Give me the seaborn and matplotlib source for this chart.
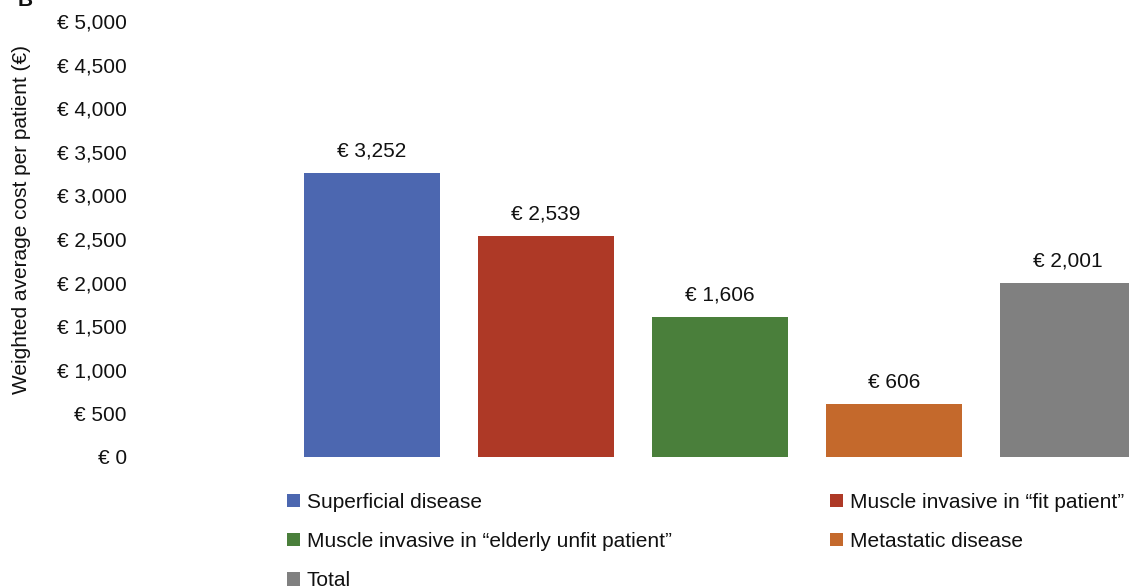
import matplotlib
matplotlib.use("Agg")
import matplotlib.pyplot as plt
import seaborn as sns
from matplotlib.patches import Patch
from matplotlib.ticker import FuncFormatter

categories = ["Superficial disease",
              "Muscle invasive in \u201cfit patient\u201d",
              "Muscle invasive in \u201celderly unfit patient\u201d",
              "Metastatic disease",
              "Total"]
values = [3252, 2539, 1606, 606, 2001]
colors = ["#4c67b0", "#ae3926", "#4a7f3b", "#c4692c", "#808080"]
yticks = [0, 500, 1000, 1500, 2000, 2500, 3000, 3500, 4000, 4500, 5000]

sns.set_style("white")
plt.rcParams["font.family"] = ["Liberation Sans", "DejaVu Sans"]

fig = plt.figure(figsize=(11.29, 5.86), dpi=100)
ax = fig.add_axes([135 / 1129, 1 - 457 / 586, 1 - 135 / 1129, (457 - 21) / 586])

sns.barplot(x=categories, y=values, hue=categories, palette=colors,
            dodge=False, legend=False, width=0.78, ax=ax, saturation=1,
            linewidth=0)

ax.set_ylim(0, 5000)
ax.set_xlim(-1.36, 4.35)
ax.set_yticks(yticks)
ax.yaxis.set_major_formatter(FuncFormatter(lambda v, p: f"\u20ac {int(v):,}"))
ax.tick_params(axis="y", labelsize=15, length=0, pad=6, colors="#111111")
ax.set_xticks([])
ax.set_xlabel("")
ax.set_ylabel("")
for s in ax.spines.values():
    s.set_visible(False)

for i, v in enumerate(values):
    ax.annotate(f"\u20ac {v:,}", (i, v), xytext=(0, 9), textcoords="offset points",
                ha="center", va="bottom", fontsize=15, color="#111111")

fig.text(22 / 1129, 1 - 219 / 586, "Weighted average cost per patient (\u20ac)",
         rotation=90, ha="center", va="center", fontsize=15, color="#111111")
fig.text(25 / 1129, 1.0, "B", ha="center", va="center", fontsize=15,
         fontweight="bold", color="#111111")

handles = [Patch(facecolor=c, edgecolor="none") for c in colors]
leg_kw = dict(frameon=False, fontsize=15, handlelength=0.6, handleheight=0.6,
              handletextpad=0.35, labelspacing=0.97, borderpad=0, borderaxespad=0,
              loc="upper left", labelcolor="#111111")
l1 = fig.legend([handles[0], handles[2], handles[4]],
                [categories[0], categories[2], categories[4]],
                bbox_to_anchor=(287 / 1129, 1 - 493 / 586), **leg_kw)
l2 = fig.legend([handles[1], handles[3]], [categories[1], categories[3]],
                bbox_to_anchor=(830 / 1129, 1 - 493 / 586), **leg_kw)

fig.savefig("out.png", dpi=100)
